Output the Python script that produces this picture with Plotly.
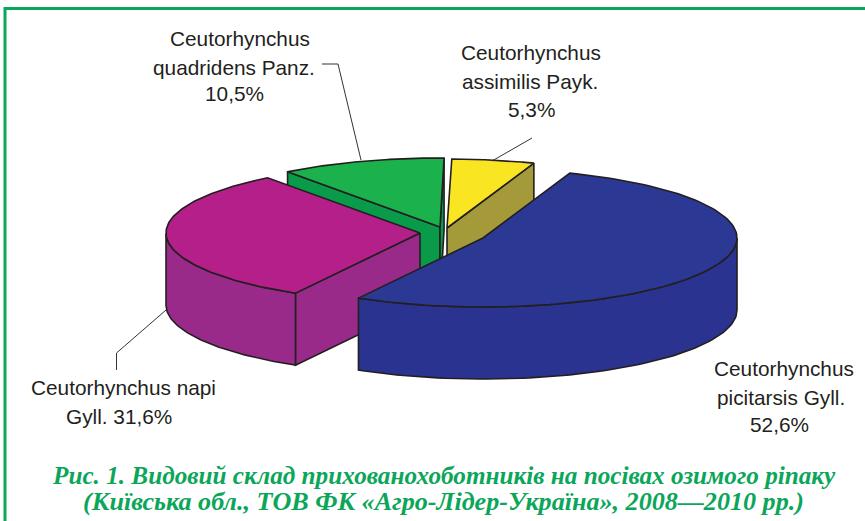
import numpy as np
import plotly.graph_objects as go

# Data
label_lines = [["Ceutorhynchus", "picitarsis Gyll.", "52,6%"],
               ["Ceutorhynchus napi", "Gyll. 31,6%"],
               ["Ceutorhynchus", "quadridens Panz.", "10,5%"],
               ["Ceutorhynchus", "assimilis Payk.", "5,3%"]]
shares = [52.6, 31.6, 10.5, 5.3]
top_colors = ["#2B3894", "#B51F8A", "#1BB14C", "#F9E522"]
wall_colors = ["#2B3390", "#9A2A8A", "#0A9B4A", "#A59A3A"]
caption = ["Рис. 1. Видовий склад прихованохоботників на посівах озимого ріпаку",
           "(Київська обл., ТОВ ФК «Агро-Лідер-Україна», 2008—2010 рр.)"]

# Layout of the exploded disc and label positions (pixels)
apexes = [(483, 238), (420, 233), (440, 227), (447, 228)]
label_x = [[783.5, 781, 779], [123.5, 118.5], [240, 234, 234], [531, 530, 531]]
label_y = [[368, 397, 424], [387, 416], [38, 67, 93], [52, 81, 109]]
caption_sizes = [25.2, 26.1]
caption_y = [475, 501]
RX, RY, DEPTH = 254, 69, 72
START = 70.0
LINE = "#231F20"
W, H = 865, 521

fig = go.Figure()


def poly(xs, ys, fill, width=1.6):
    fig.add_trace(go.Scatter(x=list(xs) + [xs[0]], y=list(ys) + [ys[0]], mode="lines", fill="toself",
                             fillcolor=fill, line=dict(color=LINE, width=width),
                             hoverinfo="skip", showlegend=False))


# slice angular spans, clockwise, from the shares
spans = []
a = START
for v in shares:
    b = a - v / sum(shares) * 360
    spans.append((a, b))
    a = b

# drawn back to front
for i in [2, 3, 1, 0]:
    a, b = spans[i]
    cx, cy = apexes[i]
    t = np.radians(np.linspace(a, b, 120))
    ex = cx + RX * np.cos(t)
    ey = cy - RY * np.sin(t)
    # straight cut walls, only those that face the viewer
    if np.cos(np.radians(a)) < 0:
        poly([cx, ex[0], ex[0], cx], [cy, ey[0], ey[0] + DEPTH, cy + DEPTH], wall_colors[i])
    if np.cos(np.radians(b)) > 0:
        poly([cx, ex[-1], ex[-1], cx], [cy, ey[-1], ey[-1] + DEPTH, cy + DEPTH], wall_colors[i])
    # front rim
    front = np.sin(t) <= 0
    if front.any():
        fx, fy = ex[front], ey[front]
        poly(list(fx) + list(fx[::-1]), list(fy) + list(fy[::-1] + DEPTH), wall_colors[i])
    # top face
    poly([cx] + list(ex), [cy] + list(ey), top_colors[i])

# leader lines
leaders = [([322, 338, 361], [64, 64, 160]), ([532, 492], [138, 161]), ([116.5, 116.5, 166], [370, 353, 310])]
for lx, ly in leaders:
    fig.add_trace(go.Scatter(x=lx, y=ly, mode="lines", line=dict(color="#333333", width=1),
                             hoverinfo="skip", showlegend=False))

# frame
fig.add_trace(go.Scatter(x=[5, 5, W], y=[H, 8.5, 8.5], mode="lines", line=dict(color="#0BA65A", width=3),
                         hoverinfo="skip", showlegend=False))

font = dict(family="Liberation Sans", size=20.8, color="#231F20")
for lines, xs, ys in zip(label_lines, label_x, label_y):
    for line, x, y in zip(lines, xs, ys):
        fig.add_annotation(x=x, y=y, xref="x", yref="y", text=line, showarrow=False,
                           font=font, xanchor="center", yanchor="middle")

for y, line, size in zip(caption_y, caption, caption_sizes):
    fig.add_annotation(x=443.5, y=y, xref="x", yref="y", text="<b><i>" + line + "</i></b>", showarrow=False,
                       font=dict(family="Liberation Serif", size=size, color="#0BA65A"),
                       xanchor="center", yanchor="middle")

fig.update_layout(width=W, height=H, margin=dict(l=0, r=0, t=0, b=0), paper_bgcolor="white", plot_bgcolor="white",
                  showlegend=False,
                  xaxis=dict(range=[0, W], visible=False, fixedrange=True),
                  yaxis=dict(range=[H, 0], visible=False, fixedrange=True))
fig.write_html("out.html", config={"displayModeBar": False},
               post_script="document.body.style.margin='0';document.body.style.overflow='hidden';")
